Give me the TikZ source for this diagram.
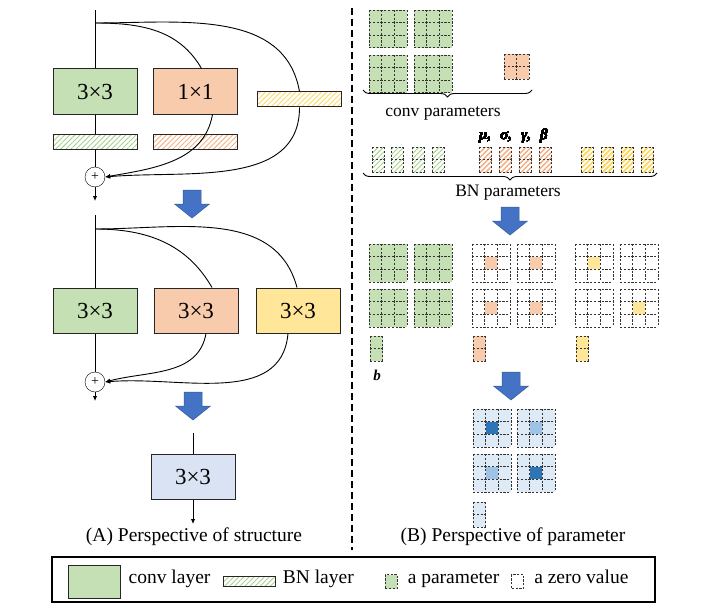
\documentclass[tikz,border=0pt]{standalone}
\usepackage{fontspec}
\setmainfont{Liberation Serif}
\usetikzlibrary{arrows.meta,positioning,patterns.meta,decorations.pathreplacing}

\definecolor{convgreen}{HTML}{C5E0B4}
\definecolor{convorange}{HTML}{F8CBAD}
\definecolor{convyellow}{HTML}{FFE699}
\definecolor{fusedblue}{HTML}{DAE3F3}
\definecolor{hatchgreen}{HTML}{A9D18E}
\definecolor{hatchorange}{HTML}{F4B183}
\definecolor{hatchyellow}{HTML}{FFD966}
\definecolor{arrowblue}{HTML}{4472C4}
\definecolor{kernbg}{HTML}{DEEBF7}
\definecolor{kerndark}{HTML}{2E75B6}
\definecolor{kernlight}{HTML}{9DC3E6}

% cell size of the parameter grids
\newcommand{\cellsz}{12.6}
\newcommand{\gridlines}[4]{%
  \foreach \i in {0,...,#3}
    \draw[zeroline] (#1+\i*\cellsz,#2) -- ++(0,-#4*\cellsz);
  \foreach \j in {0,...,#4}
    \draw[zeroline] (#1,#2-\j*\cellsz) -- ++(#3*\cellsz,0);}
\newcommand{\paramgrid}[5]{%
  \fill[#5] (#1,#2) rectangle ++(#3*\cellsz,-#4*\cellsz);
  \gridlines{#1}{#2}{#3}{#4}}
\newcommand{\kernel}[4]{%
  \fill[#3] (#1,#2) rectangle ++(3*\cellsz,-3*\cellsz);
  \fill[#4] (#1+\cellsz,#2-\cellsz) rectangle ++(\cellsz,-\cellsz);
  \gridlines{#1}{#2}{3}{3}}

\begin{document}
\begin{tikzpicture}[
  x=1pt, y=1pt,
  conv/.style={
    draw=black!85,
    line width=1pt,
    minimum width=84pt,
    minimum height=45pt,
    inner sep=0pt,
    font=\fontsize{23}{26}\selectfont
  },
  bnhatch/.style={
    pattern={Lines[angle=45,distance=3.6pt,line width=0.9pt]},
    pattern color=#1
  },
  bnbar/.style={
    draw=black!85,
    line width=1pt,
    minimum width=84pt,
    minimum height=15pt,
    inner sep=0pt
  },
  addop/.style={
    circle,
    draw,
    fill=white,
    minimum size=20pt,
    inner sep=0pt,
    font=\fontsize{14}{14}\selectfont
  },
  wire/.style={line width=0.9pt},
  flow/.style={-{Latex[length=5pt,width=4.5pt]},line width=0.9pt},
  zeroline/.style={black!80,line width=0.6pt,dash pattern=on 2.2pt off 1.6pt},
  brace/.style={decorate,decoration={brace,mirror,amplitude=7pt},line width=0.9pt},
  caption/.style={font=\fontsize{17.5}{20}\selectfont,inner sep=0pt},
  bigcaption/.style={font=\fontsize{19.5}{22}\selectfont,inner sep=0pt},
  greek/.style={font=\fontsize{15}{15}\bfseries\itshape,inner sep=0pt,anchor=south west},
  legendtext/.style={font=\fontsize{19.5}{22}\selectfont,inner sep=0pt,text height=0.7em,text depth=0.22em},
  bigdown/.pic={
    \draw[fill=arrowblue,draw=arrowblue!80!black,line width=0.5pt]
      (-9,0) -- (-9,-14) -- (-17.5,-14) -- (0,-28) -- (17.5,-14) -- (9,-14) -- (9,0) -- cycle;
  }
]
\useasboundingbox (0,0) rectangle (703,-607);

% (A) training-time block
\coordinate (in1) at (95,-10);
\coordinate (split1) at (95,-23);
\node[conv,fill=convgreen] (t3) at (95,-91.5) {3×3};
\node[conv,fill=convorange] (t1) at (195.5,-91.5) {1×1};
\node[bnbar,bnhatch=hatchyellow] (tby) at (299.5,-99.5) {};
\node[bnbar,bnhatch=hatchgreen,below=19pt of t3] (tbg) {};
\node[bnbar,bnhatch=hatchorange,below=19pt of t1] (tbo) {};
\node[addop] (add1) at (95,-177) {+};
\coordinate (out1) at (95,-201);
\draw[wire] (in1) -- (t3);
\draw[wire] (t3) -- (tbg);
\draw[wire] (tbg) -- (add1);
\draw[flow] (add1) -- (out1);
\draw[wire] (split1) to[out=0,in=120] ([xshift=6pt]t1.north);
\draw[wire] (split1) to[out=0,in=100] (tby.north);
\draw[flow] ([xshift=17pt]t1.south) to[out=-100,in=10] (add1.east);
\draw[flow] (tby.south) to[out=-90,in=5] (add1.east);

\pic at (192,-190) {bigdown};

% after BN fusion
\coordinate (in2) at (95,-215);
\coordinate (split2) at (95,-229);
\node[conv,fill=convgreen] (m3) at (95,-310.5) {3×3};
\node[conv,fill=convorange] (m1) at (196,-310.5) {3×3};
\node[conv,fill=convyellow] (mid) at (298,-310.5) {3×3};
\node[addop] (add2) at (95,-382) {+};
\coordinate (out2) at (95,-401);
\draw[wire] (in2) -- (m3);
\draw[wire] (m3) -- (add2);
\draw[flow] (add2) -- (out2);
\draw[wire] (split2) to[out=0,in=120] ([xshift=16pt]m1.north);
\draw[wire] (split2) to[out=0,in=105] ([xshift=-1pt]mid.north);
\draw[flow] ([xshift=10pt]m1.south) to[out=-100,in=15] (add2.east);
\draw[flow] ([xshift=-10pt]mid.south) to[out=-95,in=5] (add2.east);

\pic at (193,-392) {bigdown};

% inference block
\coordinate (in3) at (193,-433);
\node[conv,fill=fusedblue] (fused) at (193,-477) {3×3};
\coordinate (out3) at (193,-524);
\draw[wire] (in3) -- (fused);
\draw[flow] (fused) -- (out3);

\node[bigcaption] (capA) at (194,-537) {(A) Perspective of structure};

% divider
\draw[line width=1.6pt,dash pattern=on 7pt off 4pt] (352,-8) -- (352,-550);

% (B) conv parameters
\paramgrid{369}{-10}{3}{3}{convgreen}
\paramgrid{414}{-10}{3}{3}{convgreen}
\paramgrid{369}{-55}{3}{3}{convgreen}
\paramgrid{414}{-55}{3}{3}{convgreen}
\paramgrid{504}{-54}{2}{2}{convorange}
\draw[brace] (363,-90) -- (532,-90);
\node[caption] (convlbl) at (443,-113) {conv parameters};

% BN parameters
\foreach \x in {372,391,412,432}
  \paramgrid{\x}{-147}{1}{2}{bnhatch=hatchgreen}
\foreach \x in {479,499,519,539}
  \paramgrid{\x}{-147}{1}{2}{bnhatch=hatchorange}
\foreach \x in {581,601,621,641}
  \paramgrid{\x}{-147}{1}{2}{bnhatch=hatchyellow}
\node[greek] (bnsyms) at (479,-143) {μ,\hspace{9pt}σ,\hspace{9pt}γ,\hspace{9pt}β};
\draw[brace] (363,-173) -- (657,-173);
\node[caption] (bnlbl) at (508,-193) {BN parameters};

\pic at (510,-207) {bigdown};

% kernels after fusion
\paramgrid{369}{-244}{3}{3}{convgreen}
\paramgrid{414}{-244}{3}{3}{convgreen}
\paramgrid{369}{-289}{3}{3}{convgreen}
\paramgrid{414}{-289}{3}{3}{convgreen}
\kernel{472}{-244}{white}{convorange}
\kernel{517}{-244}{white}{convorange}
\kernel{472}{-289}{white}{convorange}
\kernel{517}{-289}{white}{convorange}
\kernel{575}{-244}{white}{convyellow}
\kernel{620}{-244}{white}{white}
\kernel{575}{-289}{white}{white}
\kernel{620}{-289}{white}{convyellow}
\paramgrid{370}{-336}{1}{2}{convgreen}
\paramgrid{473}{-336}{1}{2}{convorange}
\paramgrid{576}{-336}{1}{2}{convyellow}
\node[greek,anchor=center] (bias) at (377,-375) {b};

\pic at (511,-372) {bigdown};

% merged kernel
\kernel{473}{-409}{kernbg}{kerndark}
\kernel{517}{-409}{kernbg}{kernlight}
\kernel{473}{-454}{kernbg}{kernlight}
\kernel{517}{-454}{kernbg}{kerndark}
\paramgrid{473}{-502}{1}{2}{kernbg}

\node[bigcaption] (capB) at (513,-537) {(B) Perspective of parameter};

% legend
\node[draw,line width=1.8pt,minimum width=603pt,minimum height=45pt] (legend) at (353.5,-579.5) {};
\node[draw=black!85,line width=1pt,fill=convgreen,minimum width=52pt,minimum height=33pt] (lconv) at (94,-581.5) {};
\node[legendtext,right=8pt of lconv] (lconvtxt) {conv layer};
\node[bnbar,bnhatch=hatchgreen,minimum width=52pt,minimum height=10pt,right=12pt of lconvtxt] (lbn) {};
\node[legendtext,right=7pt of lbn] (lbntxt) {BN layer};
\node[draw=black!80,line width=0.6pt,dash pattern=on 2.2pt off 1.6pt,fill=convgreen,minimum width=12pt,minimum height=14pt,inner sep=0pt,right=31pt of lbntxt] (lparam) {};
\node[legendtext,right=10pt of lparam] (lparamtxt) {a parameter};
\node[draw=black!80,line width=0.6pt,dash pattern=on 2.2pt off 1.6pt,minimum width=12pt,minimum height=14pt,inner sep=0pt,right=12pt of lparamtxt] (lzero) {};
\node[legendtext,right=10pt of lzero] (lzerotxt) {a zero value};
\end{tikzpicture}
\end{document}
